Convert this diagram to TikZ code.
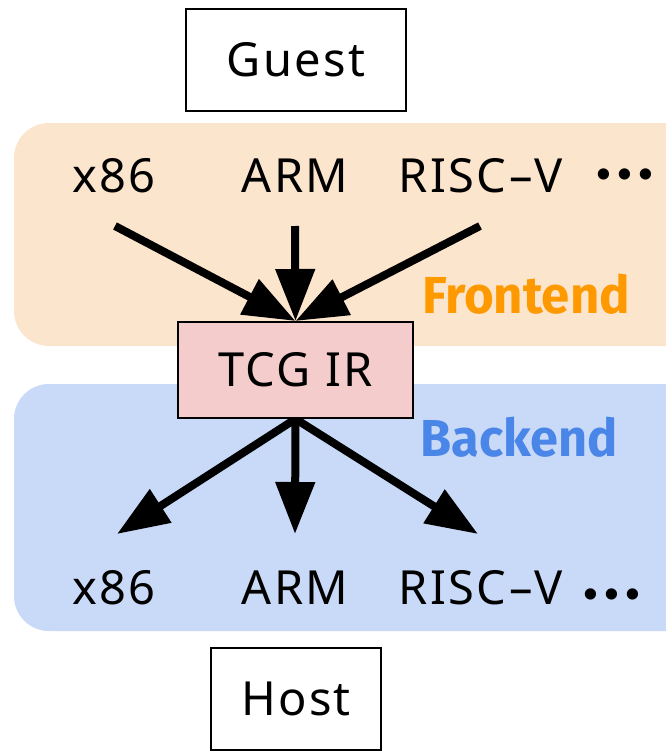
\documentclass[tikz,border=0pt]{standalone}
\usepackage{fontspec}
\setmainfont{Noto Sans}[LetterSpace=5]
\newfontfamily\tagfont{Fira Sans}
\usetikzlibrary{arrows.meta}
\pgfdeclarelayer{bg}
\pgfsetlayers{bg,main}
\definecolor{peach}{HTML}{FCE5CD}
\definecolor{lblue}{HTML}{C9DAF8}
\definecolor{lpink}{HTML}{F4CCCC}
\definecolor{orng}{HTML}{FF9900}
\definecolor{dblue}{HTML}{4A86E8}
\tikzset{
  lbl/.style={font=\fontsize{47}{50}\selectfont, anchor=base, inner sep=0pt},
  boxnode/.style={draw=black, line width=2pt, font=\fontsize{47}{50}\selectfont, inner sep=0pt},
  grp/.style={rounded corners=35pt},
  arr/.style={line width=8pt, -{Triangle[length=52pt,width=38pt]}},
  tag/.style={font=\tagfont\bfseries\fontsize{52}{56}\selectfont, anchor=base, inner sep=0pt},
  dotsn/.style={font=\tagfont\bfseries\fontsize{62}{64}\selectfont, inner sep=0pt}
}
\begin{document}
\begin{tikzpicture}[x=1pt,y=-1pt]
\useasboundingbox (0,0) rectangle (666,752);
% boxes
\node[boxnode, fill=white, minimum width=220pt, minimum height=102pt] (guest) at (296,60) {Guest};
\node[boxnode, fill=lpink, minimum width=235pt, minimum height=96pt] (tcg) at (295.5,370) {TCG IR};
\node[boxnode, fill=white, minimum width=170pt, minimum height=102pt] (host) at (296,699) {Host};
% top labels
\node[lbl] (gx) at (114,192) {x86};
\node[lbl] (garm) at (295,192) {ARM};
\node[lbl] (grv) at (481,192) {RISC–V};
\node[dotsn] (gdots) at (625,181) {·\hspace{0.1em}·\hspace{0.1em}·};
% bottom labels
\node[lbl] (hx) at (114,604) {x86};
\node[lbl] (harm) at (295,604) {ARM};
\node[lbl] (hrv) at (481,604) {RISC–V};
\node[dotsn] (hdots) at (612,601) {·\hspace{0.1em}·\hspace{0.1em}·};
% tags
\node[tag, text=orng] (fe) at (526,313) {\scalebox{0.98}[1]{Frontend}};
\node[tag, text=dblue] (be) at (519,456) {\scalebox{0.97}[1]{Backend}};
% connector end points
\coordinate (fx) at (115,226);
\coordinate (farm) at (295,226);
\coordinate (frv) at (480,226);
\coordinate (bx) at (117,534);
\coordinate (barm) at (295,534);
\coordinate (brv) at (478,534);
\begin{pgfonlayer}{bg}
\fill[white] (0,0) rectangle (666,752);
\fill[peach, grp] (14,123) rectangle (710,346);
\fill[lblue, grp] (14,384) rectangle (710,631);
% arrows
\draw[arr] (fx) -- (tcg.north);
\draw[arr] (farm) -- (tcg.north);
\draw[arr] (frv) -- (tcg.north);
\draw[arr] (tcg.south) -- (bx);
\draw[arr] (tcg.south) -- (barm);
\draw[arr] (tcg.south) -- (brv);
\end{pgfonlayer}
\end{tikzpicture}
\end{document}
